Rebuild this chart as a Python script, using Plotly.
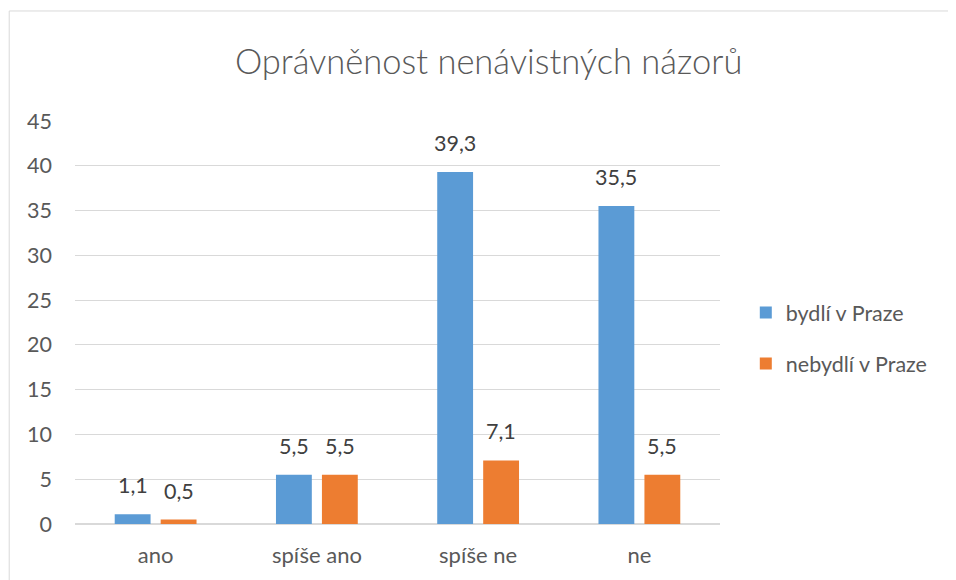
import plotly.graph_objects as go

categories = ["ano", "spíše ano", "spíše ne", "ne"]
series_names = ["bydlí v Praze", "nebydlí v Praze"]
praha = [1.1, 5.5, 39.3, 35.5]
mimo = [0.5, 5.5, 7.1, 5.5]
colors = ["#5B9BD5", "#ED7D31"]
y_ticks = [0, 5, 10, 15, 20, 25, 30, 35, 40, 45]

FONT = "Lato, Open Sans, sans-serif"
TXT = "#595959"

fig = go.Figure()
for i, (name, vals, col) in enumerate(zip(series_names, [praha, mimo], colors)):
    fig.add_trace(go.Bar(x=categories, y=vals, name=name, marker_color=col,
                         marker_line_width=0, legendgroup=f"g{i}"))

annotations = []
for vals, shift in zip([praha, mimo], [-23, 23]):
    for c, v in zip(categories, vals):
        annotations.append(dict(x=c, y=v, text=f"{v:.1f}".replace(".", ","),
                                showarrow=False, xref="x", yref="y",
                                xshift=shift, yshift=14, yanchor="bottom",
                                font=dict(family=FONT, size=21.5, color="#404040")))

fig.update_layout(
    width=948, height=572,
    margin=dict(l=67, r=236, t=113, b=56),
    paper_bgcolor="white", plot_bgcolor="white",
    barmode="group", bargap=0.43, bargroupgap=0.22,
    separators=", ",
    title=dict(text="Oprávněnost nenávistných názorů", x=0.507, xanchor="center",
               y=0.9056, yanchor="middle",
               font=dict(family=FONT, size=34.5, color=TXT, weight=300)),
    font=dict(family=FONT, color=TXT),
    legend=dict(x=1.04, y=0.4615, xanchor="left", yanchor="middle",
                font=dict(family=FONT, size=21.5, color=TXT),
                tracegroupgap=20, itemwidth=30, traceorder="grouped"),
    annotations=annotations,
    shapes=[dict(type="rect", xref="paper", yref="paper",
                 x0=-0.102, x1=1.6, y0=-0.4, y1=1.273,
                 line=dict(color="#d9d9d9", width=1), layer="below")],
)
fig.update_xaxes(showgrid=False, showline=False, ticks="",
                 tickfont=dict(family=FONT, size=22, color=TXT), ticklabelstandoff=16)
fig.update_yaxes(range=[0, 45], tickvals=y_ticks, showgrid=True, gridcolor="#d9d9d9",
                 gridwidth=1, zeroline=True, zerolinecolor="#d9d9d9", showline=False,
                 tickfont=dict(family=FONT, size=21.5, color=TXT), ticklabelstandoff=22)

fig.write_html("out.html")
